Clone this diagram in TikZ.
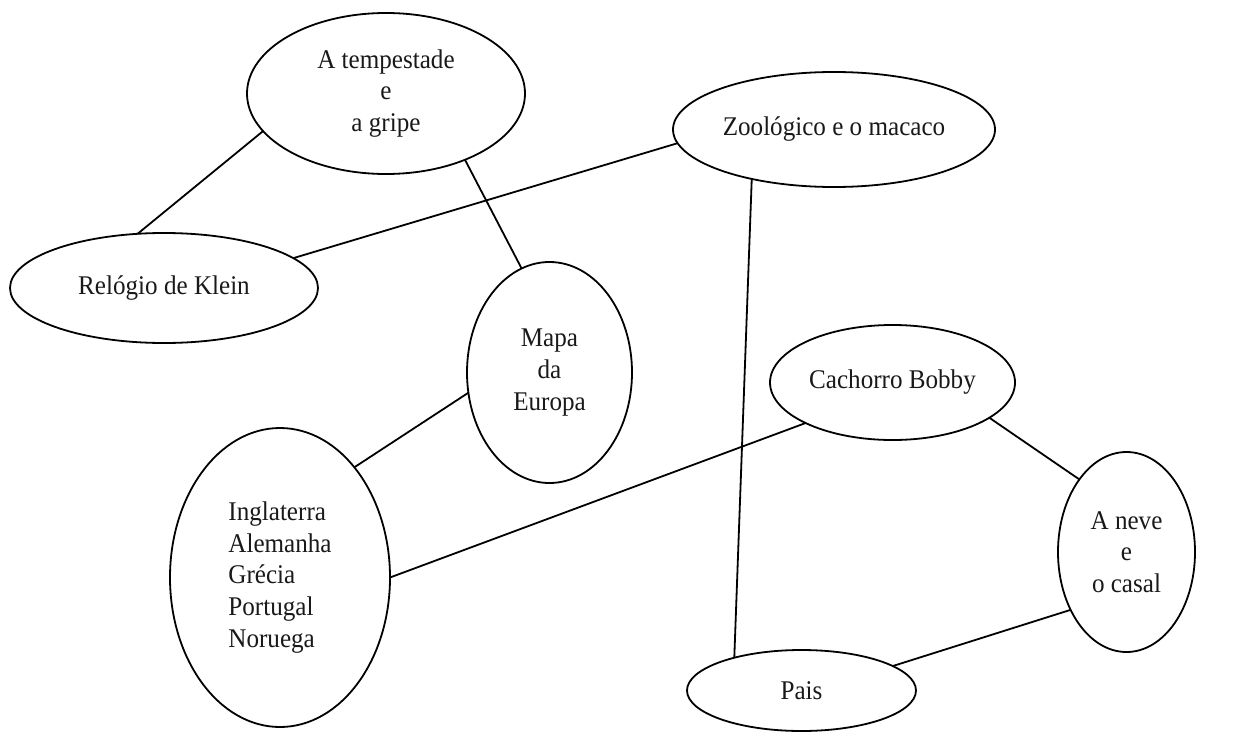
\documentclass[tikz,border=0pt]{standalone}
\usepackage{fontspec}
\setmainfont[FakeStretch=0.93]{Liberation Serif}
\usetikzlibrary{shapes.geometric}
\begin{document}
\begin{tikzpicture}[x=1pt,y=-1pt,
  bubble/.style={draw=black, line width=1.8pt, ellipse, inner sep=0pt, outer sep=0pt,
    font=\fontsize{27}{31.7}\selectfont, align=center, text=black!90},
  link/.style={draw=black, line width=1.8pt}]
\useasboundingbox (0,0) rectangle (1241,733);
\fill[white] (0,0) rectangle (1241,733);
\node[bubble, minimum width=278pt, minimum height=161pt] (tem) at (386,93.5) {A tempestade\\e\\a gripe};
\node[bubble, minimum width=308pt, minimum height=110pt] (rel) at (164,288) {Relógio de Klein};
\node[bubble, minimum width=322pt, minimum height=115pt] (zoo) at (834,129.5) {Zoológico e o macaco};
\node[bubble, minimum width=165pt, minimum height=221pt] (mapa) at (549.5,372.5) {Mapa\\da\\Europa};
\node[bubble, minimum width=220pt, minimum height=299pt, align=left] (ing) at (280,577.5) {Inglaterra\\Alemanha\\Grécia\\Portugal\\Noruega};
\node[bubble, minimum width=245pt, minimum height=115pt] (cach) at (892.5,382.5) {Cachorro Bobby};
\node[bubble, minimum width=137pt, minimum height=200pt] (neve) at (1126.5,552) {A neve\\e\\o casal};
\node[bubble, minimum width=229pt, minimum height=81pt] (pais) at (801.5,690.5) {Pais};
\draw[link] (tem.197.8) -- (rel.116.1);
\draw[link] (tem.320.6) -- (mapa.105.3);
\draw[link] (zoo.185.5) -- (rel.13.1);
\draw[link] (zoo.211.7) -- (pais.154.6);
\draw[link] (mapa.194) -- (ing.56.8);
\draw[link] (cach.205.4) -- (ing.0);
\draw[link] (cach.340.9) -- (neve.123.2);
\draw[link] (neve.226.7) -- (pais.15.9);
\end{tikzpicture}
\end{document}
